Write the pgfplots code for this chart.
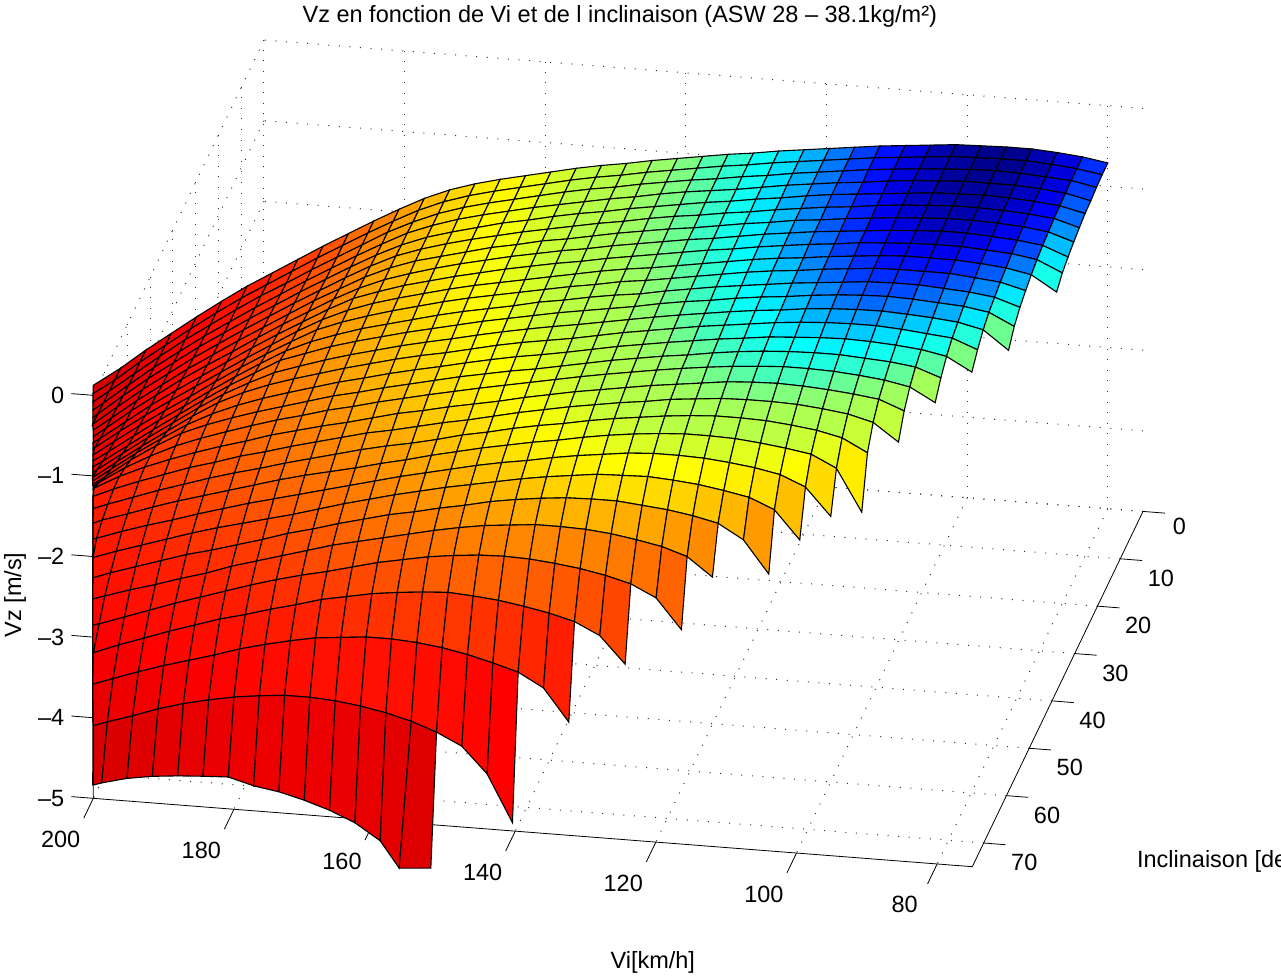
\documentclass[border=0pt]{standalone}
\usepackage{pgfplots}
\pgfplotsset{compat=1.18}
\usepackage{fontspec}
\setmainfont{Liberation Sans}
\begin{document}
\begin{tikzpicture}
\path[use as bounding box] (0,0) rectangle (1281pt,979pt);
\begin{axis}[
  anchor=south west, at={(93.3pt,112.3pt)},
  x={(-7.032pt,0.547pt)}, y={(-2.276pt,-4.737pt)}, z={(0pt,80.6pt)},
  xmin=75,xmax=200,ymin=0,ymax=75,zmin=-5,zmax=0,
  xtick={80,100,120,140,160,180,200}, ytick={0,10,20,30,40,50,60,70}, ztick={-5,-4,-3,-2,-1,0},
  zticklabels={–5,–4,–3,–2,–1,0},
  clip=false,
  font=\fontsize{23.5}{28}\selectfont,
  /pgf/number format/assume math mode=true,
  axis line style={draw=none},
  tick align=outside, major tick length=22pt,
  major tick style={draw=none},
  xticklabel style={xshift=-20pt,yshift=-8pt},
  yticklabel style={xshift=4pt,yshift=-2pt},
  zticklabel style={anchor=east,xshift=-16pt,yshift=20pt},
  grid=major,
  grid style={black!80,line width=1pt,dash pattern=on 1pt off 9.6pt},
  title={Vz en fonction de Vi et de l inclinaison (ASW 28 -- 38.1kg/m²)},
  xlabel={Vi[km/h]}, ylabel={Inclinaison [deg]}, zlabel={Vz [m/s]},
  every axis title/.style={at={(axis description cs:0.5016,1.029)},anchor=center},
  every axis x label/.style={at={(axis description cs:0.533,-0.1153)},anchor=center},
  every axis y label/.style={at={(axis description cs:0.991,0.0058)},anchor=west},
  every axis z label/.style={at={(axis description cs:-0.0746,0.3287)},anchor=center,rotate=90},
  point meta min=-5.7, point meta max=-0.6,
  colormap={vz}{rgb255(0cm)=(153,0,0); rgb255(1cm)=(200,0,0); rgb255(1.7cm)=(222,0,0); rgb255(2.37cm)=(255,0,0); rgb255(2.9cm)=(255,30,0); rgb255(3.27cm)=(255,70,0); rgb255(3.51cm)=(255,100,0); rgb255(3.8cm)=(255,140,0); rgb255(4.03cm)=(255,190,0); rgb255(4.2cm)=(255,235,0); rgb255(4.3cm)=(255,255,0); rgb255(4.47cm)=(190,255,65); rgb255(4.59cm)=(170,255,85); rgb255(4.69cm)=(120,255,135); rgb255(4.75cm)=(60,255,195); rgb255(4.83cm)=(0,255,255); rgb255(4.89cm)=(0,190,255); rgb255(4.94cm)=(0,120,255); rgb255(4.98cm)=(0,60,255); rgb255(5.02cm)=(0,0,255); rgb255(5.06cm)=(0,0,190); rgb255(5.1cm)=(0,0,128)},
]
\draw[black,line width=0.8pt] (axis cs:200,75,0)--(axis cs:200,75,-5)--(axis cs:75,75,-5)--(axis cs:75,0,-5);
\foreach \v in {80,100,120,140,160,180,200}{\edef\tmp{\noexpand\draw[black,line width=0.8pt] (axis cs:\v,75,-5)--(axis cs:\v,79.2,-5);}\tmp}
\foreach \v in {0,10,20,30,40,50,60,70}{\edef\tmp{\noexpand\draw[black,line width=0.8pt] (axis cs:75,\v,-5)--(axis cs:71.9,\v,-5);}\tmp}
\foreach \v in {-5,-4,-3,-2,-1,0}{\edef\tmp{\noexpand\draw[black,line width=0.8pt] (axis cs:200,75,\v)--(axis cs:203.1,75,\v);}\tmp}
\addplot3[surf, shader=flat corner, draw=black, line width=1.1pt, unbounded coords=jump, mesh/rows=31, mesh/cols=41, point meta=z] table {
80 0 -.71
83.6 0 -.66
87.2 0 -.63
90.8 0 -.61
94.4 0 -.61
98 0 -.62
101.6 0 -.63
105.2 0 -.66
108.8 0 -.69
112.4 0 -.72
116 0 -.76
119.6 0 -.80
123.2 0 -.84
126.8 0 -.88
130.4 0 -.93
134 0 -.97
137.6 0 -1.02
141.2 0 -1.07
144.8 0 -1.12
148.4 0 -1.18
152 0 -1.23
155.6 0 -1.29
159.2 0 -1.36
162.8 0 -1.43
166.4 0 -1.50
170 0 -1.58
173.6 0 -1.68
177.2 0 -1.81
180.8 0 -1.97
184.4 0 -2.14
188 0 -2.32
191.6 0 -2.50
195.2 0 -2.69
198.8 0 -2.88
202.4 0 -3.07
206 0 -3.28
209.6 0 -3.50
213.2 0 -3.73
216.8 0 -3.96
220.4 0 -4.21
224.3 0 -4.45
80 2.5 -.71
83.6 2.5 -.66
87.2 2.5 -.63
90.8 2.5 -.61
94.4 2.5 -.61
98 2.5 -.62
101.6 2.5 -.63
105.2 2.5 -.66
108.8 2.5 -.69
112.4 2.5 -.72
116 2.5 -.76
119.6 2.5 -.80
123.2 2.5 -.84
126.8 2.5 -.88
130.4 2.5 -.93
134 2.5 -.97
137.6 2.5 -1.02
141.2 2.5 -1.07
144.8 2.5 -1.12
148.4 2.5 -1.18
152 2.5 -1.23
155.6 2.5 -1.29
159.2 2.5 -1.36
162.8 2.5 -1.43
166.4 2.5 -1.50
170 2.5 -1.58
173.6 2.5 -1.68
177.2 2.5 -1.81
180.8 2.5 -1.97
184.4 2.5 -2.14
188 2.5 -2.32
191.6 2.5 -2.50
195.2 2.5 -2.69
198.8 2.5 -2.88
202.4 2.5 -3.07
206 2.5 -3.28
209.6 2.5 -3.50
213.2 2.5 -3.73
216.8 2.5 -3.96
220.4 2.5 -4.21
223.5 2.5 -4.40
80 5 -.72
83.6 5 -.66
87.2 5 -.64
90.8 5 -.62
94.4 5 -.61
98 5 -.62
101.6 5 -.64
105.2 5 -.66
108.8 5 -.69
112.4 5 -.72
116 5 -.76
119.6 5 -.80
123.2 5 -.84
126.8 5 -.89
130.4 5 -.93
134 5 -.98
137.6 5 -1.02
141.2 5 -1.07
144.8 5 -1.12
148.4 5 -1.18
152 5 -1.23
155.6 5 -1.29
159.2 5 -1.36
162.8 5 -1.43
166.4 5 -1.50
170 5 -1.58
173.6 5 -1.68
177.2 5 -1.81
180.8 5 -1.96
184.4 5 -2.14
188 5 -2.32
191.6 5 -2.50
195.2 5 -2.69
198.8 5 -2.87
202.4 5 -3.07
206 5 -3.28
209.6 5 -3.49
213.2 5 -3.72
216.8 5 -3.96
220.4 5 -4.20
222.7 5 -4.35
80 7.5 -.74
83.6 7.5 -.67
87.2 7.5 -.64
90.8 7.5 -.62
94.4 7.5 -.62
98 7.5 -.62
101.6 7.5 -.64
105.2 7.5 -.66
108.8 7.5 -.69
112.4 7.5 -.73
116 7.5 -.76
119.6 7.5 -.80
123.2 7.5 -.84
126.8 7.5 -.89
130.4 7.5 -.94
134 7.5 -.98
137.6 7.5 -1.02
141.2 7.5 -1.07
144.8 7.5 -1.13
148.4 7.5 -1.18
152 7.5 -1.24
155.6 7.5 -1.30
159.2 7.5 -1.36
162.8 7.5 -1.43
166.4 7.5 -1.50
170 7.5 -1.58
173.6 7.5 -1.68
177.2 7.5 -1.80
180.8 7.5 -1.96
184.4 7.5 -2.13
188 7.5 -2.31
191.6 7.5 -2.49
195.2 7.5 -2.68
198.8 7.5 -2.87
202.4 7.5 -3.07
206 7.5 -3.27
209.6 7.5 -3.49
213.2 7.5 -3.71
216.8 7.5 -3.95
220.4 7.5 -4.20
221.9 7.5 -4.30
80 10 -.75
83.6 10 -.68
87.2 10 -.65
90.8 10 -.63
94.4 10 -.62
98 10 -.63
101.6 10 -.64
105.2 10 -.67
108.8 10 -.70
112.4 10 -.73
116 10 -.76
119.6 10 -.80
123.2 10 -.85
126.8 10 -.89
130.4 10 -.94
134 10 -.98
137.6 10 -1.03
141.2 10 -1.08
144.8 10 -1.13
148.4 10 -1.19
152 10 -1.24
155.6 10 -1.30
159.2 10 -1.37
162.8 10 -1.43
166.4 10 -1.51
170 10 -1.59
173.6 10 -1.68
177.2 10 -1.80
180.8 10 -1.95
184.4 10 -2.12
188 10 -2.30
191.6 10 -2.48
195.2 10 -2.67
198.8 10 -2.86
202.4 10 -3.06
206 10 -3.26
209.6 10 -3.48
213.2 10 -3.70
216.8 10 -3.94
220.4 10 -4.19
221.1 10 -4.24
80 12.5 -.78
83.6 12.5 -.69
87.2 12.5 -.66
90.8 12.5 -.64
94.4 12.5 -.63
98 12.5 -.63
101.6 12.5 -.65
105.2 12.5 -.67
108.8 12.5 -.70
112.4 12.5 -.74
116 12.5 -.77
119.6 12.5 -.81
123.2 12.5 -.85
126.8 12.5 -.90
130.4 12.5 -.94
134 12.5 -.99
137.6 12.5 -1.03
141.2 12.5 -1.08
144.8 12.5 -1.14
148.4 12.5 -1.19
152 12.5 -1.25
155.6 12.5 -1.31
159.2 12.5 -1.37
162.8 12.5 -1.44
166.4 12.5 -1.51
170 12.5 -1.59
173.6 12.5 -1.68
177.2 12.5 -1.79
180.8 12.5 -1.94
184.4 12.5 -2.11
188 12.5 -2.29
191.6 12.5 -2.47
195.2 12.5 -2.66
198.8 12.5 -2.85
202.4 12.5 -3.05
206 12.5 -3.25
209.6 12.5 -3.47
213.2 12.5 -3.69
216.8 12.5 -3.93
220.3 12.5 -4.17
220.3 12.5 -4.17
80 15 -.81
83.6 15 -.71
87.2 15 -.67
90.8 15 -.65
94.4 15 -.64
98 15 -.64
101.6 15 -.66
105.2 15 -.68
108.8 15 -.71
112.4 15 -.74
116 15 -.78
119.6 15 -.81
123.2 15 -.86
126.8 15 -.90
130.4 15 -.95
134 15 -1.00
137.6 15 -1.04
141.2 15 -1.09
144.8 15 -1.14
148.4 15 -1.20
152 15 -1.26
155.6 15 -1.31
159.2 15 -1.38
162.8 15 -1.44
166.4 15 -1.52
170 15 -1.60
173.6 15 -1.68
177.2 15 -1.79
180.8 15 -1.93
184.4 15 -2.10
188 15 -2.27
191.6 15 -2.46
195.2 15 -2.65
198.8 15 -2.84
202.4 15 -3.04
206 15 -3.24
209.6 15 -3.46
213.2 15 -3.68
216.8 15 -3.92
219.4 15 -4.09
219.4 15 -4.09
80 17.5 -.85
83.6 17.5 -.73
87.2 17.5 -.69
90.8 17.5 -.67
94.4 17.5 -.65
98 17.5 -.65
101.6 17.5 -.67
105.2 17.5 -.69
108.8 17.5 -.72
112.4 17.5 -.75
116 17.5 -.78
119.6 17.5 -.82
123.2 17.5 -.86
126.8 17.5 -.91
130.4 17.5 -.96
134 17.5 -1.00
137.6 17.5 -1.05
141.2 17.5 -1.10
144.8 17.5 -1.15
148.4 17.5 -1.21
152 17.5 -1.26
155.6 17.5 -1.32
159.2 17.5 -1.38
162.8 17.5 -1.45
166.4 17.5 -1.52
170 17.5 -1.60
173.6 17.5 -1.69
177.2 17.5 -1.79
180.8 17.5 -1.92
184.4 17.5 -2.08
188 17.5 -2.26
191.6 17.5 -2.44
195.2 17.5 -2.63
198.8 17.5 -2.83
202.4 17.5 -3.02
206 17.5 -3.22
209.6 17.5 -3.44
213.2 17.5 -3.66
216.8 17.5 -3.90
218.6 17.5 -4.02
218.6 17.5 -4.02
80 20 -.90
83.6 20 -.76
87.2 20 -.71
90.8 20 -.69
94.4 20 -.67
98 20 -.67
101.6 20 -.68
105.2 20 -.70
108.8 20 -.72
112.4 20 -.76
116 20 -.79
119.6 20 -.83
123.2 20 -.87
126.8 20 -.92
130.4 20 -.96
134 20 -1.01
137.6 20 -1.06
141.2 20 -1.11
144.8 20 -1.16
148.4 20 -1.22
152 20 -1.27
155.6 20 -1.33
159.2 20 -1.39
162.8 20 -1.46
166.4 20 -1.53
170 20 -1.61
173.6 20 -1.69
177.2 20 -1.79
180.8 20 -1.90
184.4 20 -2.06
188 20 -2.24
191.6 20 -2.42
195.2 20 -2.61
198.8 20 -2.81
202.4 20 -3.01
206 20 -3.21
209.6 20 -3.42
213.2 20 -3.65
216.8 20 -3.88
217.8 20 -3.94
217.8 20 -3.94
80 22.5 -.99
83.6 22.5 -.80
87.2 22.5 -.74
90.8 22.5 -.71
94.4 22.5 -.69
98 22.5 -.69
101.6 22.5 -.69
105.2 22.5 -.71
108.8 22.5 -.74
112.4 22.5 -.77
116 22.5 -.81
119.6 22.5 -.84
123.2 22.5 -.88
126.8 22.5 -.93
130.4 22.5 -.98
134 22.5 -1.03
137.6 22.5 -1.08
141.2 22.5 -1.12
144.8 22.5 -1.17
148.4 22.5 -1.23
152 22.5 -1.29
155.6 22.5 -1.35
159.2 22.5 -1.41
162.8 22.5 -1.47
166.4 22.5 -1.54
170 22.5 -1.62
173.6 22.5 -1.70
177.2 22.5 -1.79
180.8 22.5 -1.90
184.4 22.5 -2.04
188 22.5 -2.21
191.6 22.5 -2.40
195.2 22.5 -2.59
198.8 22.5 -2.79
202.4 22.5 -2.99
206 22.5 -3.19
209.6 22.5 -3.40
213.2 22.5 -3.62
216.8 22.5 -3.85
217 22.5 -3.87
217 22.5 -3.87
80 25 nan
83.6 25 -.85
87.2 25 -.77
90.8 25 -.74
94.4 25 -.71
98 25 -.71
101.6 25 -.71
105.2 25 -.72
108.8 25 -.75
112.4 25 -.78
116 25 -.82
119.6 25 -.85
123.2 25 -.89
126.8 25 -.94
130.4 25 -.99
134 25 -1.04
137.6 25 -1.09
141.2 25 -1.13
144.8 25 -1.19
148.4 25 -1.24
152 25 -1.30
155.6 25 -1.36
159.2 25 -1.42
162.8 25 -1.48
166.4 25 -1.55
170 25 -1.63
173.6 25 -1.71
177.2 25 -1.80
180.8 25 -1.90
184.4 25 -2.02
188 25 -2.19
191.6 25 -2.37
195.2 25 -2.56
198.8 25 -2.76
202.4 25 -2.97
206 25 -3.17
209.6 25 -3.38
213.2 25 -3.60
216.2 25 -3.79
216.2 25 -3.79
216.2 25 -3.79
80 27.5 nan
83.6 27.5 -.91
87.2 27.5 -.81
90.8 27.5 -.77
94.4 27.5 -.75
98 27.5 -.73
101.6 27.5 -.73
105.2 27.5 -.74
108.8 27.5 -.77
112.4 27.5 -.80
116 27.5 -.83
119.6 27.5 -.87
123.2 27.5 -.91
126.8 27.5 -.95
130.4 27.5 -1.00
134 27.5 -1.05
137.6 27.5 -1.11
141.2 27.5 -1.15
144.8 27.5 -1.20
148.4 27.5 -1.26
152 27.5 -1.31
155.6 27.5 -1.38
159.2 27.5 -1.44
162.8 27.5 -1.50
166.4 27.5 -1.57
170 27.5 -1.65
173.6 27.5 -1.73
177.2 27.5 -1.81
180.8 27.5 -1.91
184.4 27.5 -2.02
188 27.5 -2.16
191.6 27.5 -2.34
195.2 27.5 -2.53
198.8 27.5 -2.73
202.4 27.5 -2.94
206 27.5 -3.14
209.6 27.5 -3.36
213.2 27.5 -3.58
215.4 27.5 -3.71
215.4 27.5 -3.71
215.4 27.5 -3.71
80 30 nan
83.6 30 -1.00
87.2 30 -.85
90.8 30 -.80
94.4 30 -.78
98 30 -.76
101.6 30 -.75
105.2 30 -.76
108.8 30 -.78
112.4 30 -.81
116 30 -.85
119.6 30 -.88
123.2 30 -.92
126.8 30 -.97
130.4 30 -1.01
134 30 -1.06
137.6 30 -1.12
141.2 30 -1.17
144.8 30 -1.22
148.4 30 -1.27
152 30 -1.33
155.6 30 -1.39
159.2 30 -1.45
162.8 30 -1.52
166.4 30 -1.59
170 30 -1.66
173.6 30 -1.74
177.2 30 -1.82
180.8 30 -1.91
184.4 30 -2.02
188 30 -2.13
191.6 30 -2.31
195.2 30 -2.49
198.8 30 -2.69
202.4 30 -2.90
206 30 -3.11
209.6 30 -3.33
213.2 30 -3.55
214.6 30 -3.63
214.6 30 -3.63
214.6 30 -3.63
80 32.5 nan
83.6 32.5 -1.15
87.2 32.5 -.92
90.8 32.5 -.85
94.4 32.5 -.82
98 32.5 -.80
101.6 32.5 -.785
105.2 32.5 -.79
108.8 32.5 -.805
112.4 32.5 -.83
116 32.5 -.87
119.6 32.5 -.90
123.2 32.5 -.94
126.8 32.5 -.985
130.4 32.5 -1.03
134 32.5 -1.08
137.6 32.5 -1.135
141.2 32.5 -1.19
144.8 32.5 -1.245
148.4 32.5 -1.295
152 32.5 -1.35
155.6 32.5 -1.41
159.2 32.5 -1.475
162.8 32.5 -1.545
166.4 32.5 -1.61
170 32.5 -1.68
173.6 32.5 -1.76
177.2 32.5 -1.84
180.8 32.5 -1.93
184.4 32.5 -2.03
188 32.5 -2.135
191.6 32.5 -2.285
195.2 32.5 -2.45
198.8 32.5 -2.645
202.4 32.5 -2.855
206 32.5 -3.065
209.6 32.5 -3.285
213.2 32.5 -3.51
213.8 32.5 -3.55
213.8 32.5 -3.55
213.8 32.5 -3.55
80 35 nan
83.6 35 nan
87.2 35 -1.02
90.8 35 -.90
94.4 35 -.87
98 35 -.84
101.6 35 -.82
105.2 35 -.82
108.8 35 -.83
112.4 35 -.85
116 35 -.88
119.6 35 -.92
123.2 35 -.96
126.8 35 -1.00
130.4 35 -1.05
134 35 -1.10
137.6 35 -1.15
141.2 35 -1.21
144.8 35 -1.27
148.4 35 -1.32
152 35 -1.37
155.6 35 -1.43
159.2 35 -1.50
162.8 35 -1.57
166.4 35 -1.63
170 35 -1.70
173.6 35 -1.78
177.2 35 -1.86
180.8 35 -1.95
184.4 35 -2.04
188 35 -2.14
191.6 35 -2.26
195.2 35 -2.41
198.8 35 -2.60
202.4 35 -2.81
206 35 -3.02
209.6 35 -3.24
213 35 -3.46
213 35 -3.46
213 35 -3.46
213 35 -3.46
80 37.5 nan
83.6 37.5 nan
87.2 37.5 -1.15
90.8 37.5 -.98
94.4 37.5 -.92
98 37.5 -.89
101.6 37.5 -.87
105.2 37.5 -.86
108.8 37.5 -.87
112.4 37.5 -.89
116 37.5 -.91
119.6 37.5 -.95
123.2 37.5 -.985
126.8 37.5 -1.03
130.4 37.5 -1.075
134 37.5 -1.125
137.6 37.5 -1.175
141.2 37.5 -1.235
144.8 37.5 -1.295
148.4 37.5 -1.35
152 37.5 -1.40
155.6 37.5 -1.46
159.2 37.5 -1.525
162.8 37.5 -1.595
166.4 37.5 -1.66
170 37.5 -1.73
173.6 37.5 -1.81
177.2 37.5 -1.885
180.8 37.5 -1.975
184.4 37.5 -2.065
188 37.5 -2.16
191.6 37.5 -2.27
195.2 37.5 -2.40
198.8 37.5 -2.56
202.4 37.5 -2.755
206 37.5 -2.96
209.6 37.5 -3.185
212.2 37.5 -3.35
212.2 37.5 -3.35
212.2 37.5 -3.35
212.2 37.5 -3.35
80 40 nan
83.6 40 nan
87.2 40 nan
90.8 40 -1.10
94.4 40 -.99
98 40 -.95
101.6 40 -.93
105.2 40 -.91
108.8 40 -.91
112.4 40 -.92
116 40 -.94
119.6 40 -.97
123.2 40 -1.01
126.8 40 -1.06
130.4 40 -1.10
134 40 -1.15
137.6 40 -1.20
141.2 40 -1.26
144.8 40 -1.32
148.4 40 -1.38
152 40 -1.43
155.6 40 -1.49
159.2 40 -1.55
162.8 40 -1.62
166.4 40 -1.69
170 40 -1.76
173.6 40 -1.84
177.2 40 -1.91
180.8 40 -2.00
184.4 40 -2.09
188 40 -2.18
191.6 40 -2.28
195.2 40 -2.39
198.8 40 -2.52
202.4 40 -2.70
206 40 -2.90
209.6 40 -3.13
211.4 40 -3.24
211.4 40 -3.24
211.4 40 -3.24
211.4 40 -3.24
80 42.5 nan
83.6 42.5 nan
87.2 42.5 nan
90.8 42.5 -1.26
94.4 42.5 -1.09
98 42.5 -1.03
101.6 42.5 -.995
105.2 42.5 -.97
108.8 42.5 -.96
112.4 42.5 -.96
116 42.5 -.98
119.6 42.5 -1.005
123.2 42.5 -1.04
126.8 42.5 -1.08
130.4 42.5 -1.125
134 42.5 -1.175
137.6 42.5 -1.225
141.2 42.5 -1.28
144.8 42.5 -1.34
148.4 42.5 -1.40
152 42.5 -1.46
155.6 42.5 -1.52
159.2 42.5 -1.585
162.8 42.5 -1.65
166.4 42.5 -1.72
170 42.5 -1.79
173.6 42.5 -1.87
177.2 42.5 -1.94
180.8 42.5 -2.03
184.4 42.5 -2.11
188 42.5 -2.205
191.6 42.5 -2.305
195.2 42.5 -2.41
198.8 42.5 -2.53
202.4 42.5 -2.68
206 42.5 -2.85
209.6 42.5 -3.05
210.5 42.5 -3.11
210.5 42.5 -3.11
210.5 42.5 -3.11
210.5 42.5 -3.11
80 45 nan
83.6 45 nan
87.2 45 nan
90.8 45 nan
94.4 45 -1.24
98 45 -1.12
101.6 45 -1.08
105.2 45 -1.05
108.8 45 -1.03
112.4 45 -1.02
116 45 -1.03
119.6 45 -1.05
123.2 45 -1.09
126.8 45 -1.13
130.4 45 -1.17
134 45 -1.22
137.6 45 -1.27
141.2 45 -1.32
144.8 45 -1.38
148.4 45 -1.44
152 45 -1.51
155.6 45 -1.57
159.2 45 -1.63
162.8 45 -1.70
166.4 45 -1.76
170 45 -1.84
173.6 45 -1.92
177.2 45 -1.99
180.8 45 -2.07
184.4 45 -2.15
188 45 -2.25
191.6 45 -2.34
195.2 45 -2.44
198.8 45 -2.55
202.4 45 -2.67
206 45 -2.81
209.6 45 -2.98
209.7 45 -2.99
209.7 45 -2.99
209.7 45 -2.99
209.7 45 -2.99
80 47.5 nan
83.6 47.5 nan
87.2 47.5 nan
90.8 47.5 nan
94.4 47.5 -1.48
98 47.5 -1.26
101.6 47.5 -1.18
105.2 47.5 -1.14
108.8 47.5 -1.11
112.4 47.5 -1.10
116 47.5 -1.10
119.6 47.5 -1.11
123.2 47.5 -1.14
126.8 47.5 -1.17
130.4 47.5 -1.22
134 47.5 -1.26
137.6 47.5 -1.31
141.2 47.5 -1.36
144.8 47.5 -1.42
148.4 47.5 -1.48
152 47.5 -1.55
155.6 47.5 -1.62
159.2 47.5 -1.68
162.8 47.5 -1.75
166.4 47.5 -1.82
170 47.5 -1.88
173.6 47.5 -1.96
177.2 47.5 -2.04
180.8 47.5 -2.12
184.4 47.5 -2.21
188 47.5 -2.29
191.6 47.5 -2.39
195.2 47.5 -2.48
198.8 47.5 -2.59
202.4 47.5 -2.70
206 47.5 -2.82
208.9 47.5 -2.93
208.9 47.5 -2.93
208.9 47.5 -2.93
208.9 47.5 -2.93
208.9 47.5 -2.93
80 50 nan
83.6 50 nan
87.2 50 nan
90.8 50 nan
94.4 50 nan
98 50 -1.49
101.6 50 -1.33
105.2 50 -1.26
108.8 50 -1.22
112.4 50 -1.19
116 50 -1.18
119.6 50 -1.18
123.2 50 -1.20
126.8 50 -1.23
130.4 50 -1.27
134 50 -1.31
137.6 50 -1.36
141.2 50 -1.42
144.8 50 -1.47
148.4 50 -1.53
152 50 -1.60
155.6 50 -1.66
159.2 50 -1.74
162.8 50 -1.81
166.4 50 -1.87
170 50 -1.94
173.6 50 -2.02
177.2 50 -2.10
180.8 50 -2.18
184.4 50 -2.27
188 50 -2.35
191.6 50 -2.44
195.2 50 -2.54
198.8 50 -2.64
202.4 50 -2.75
206 50 -2.86
208.1 50 -2.93
208.1 50 -2.93
208.1 50 -2.93
208.1 50 -2.93
208.1 50 -2.93
80 52.5 nan
83.6 52.5 nan
87.2 52.5 nan
90.8 52.5 nan
94.4 52.5 nan
98 52.5 -2.08
101.6 52.5 -1.56
105.2 52.5 -1.41
108.8 52.5 -1.36
112.4 52.5 -1.32
116 52.5 -1.29
119.6 52.5 -1.28
123.2 52.5 -1.28
126.8 52.5 -1.30
130.4 52.5 -1.33
134 52.5 -1.37
137.6 52.5 -1.42
141.2 52.5 -1.48
144.8 52.5 -1.53
148.4 52.5 -1.59
152 52.5 -1.65
155.6 52.5 -1.72
159.2 52.5 -1.79
162.8 52.5 -1.87
166.4 52.5 -1.94
170 52.5 -2.02
173.6 52.5 -2.09
177.2 52.5 -2.16
180.8 52.5 -2.24
184.4 52.5 -2.33
188 52.5 -2.42
191.6 52.5 -2.51
195.2 52.5 -2.60
198.8 52.5 -2.70
202.4 52.5 -2.81
206 52.5 -2.91
207.3 52.5 -2.96
207.3 52.5 -2.96
207.3 52.5 -2.96
207.3 52.5 -2.96
207.3 52.5 -2.96
80 55 nan
83.6 55 nan
87.2 55 nan
90.8 55 nan
94.4 55 nan
98 55 nan
101.6 55 -2.01
105.2 55 -1.67
108.8 55 -1.54
112.4 55 -1.48
116 55 -1.44
119.6 55 -1.41
123.2 55 -1.40
126.8 55 -1.40
130.4 55 -1.42
134 55 -1.46
137.6 55 -1.50
141.2 55 -1.55
144.8 55 -1.61
148.4 55 -1.66
152 55 -1.72
155.6 55 -1.79
159.2 55 -1.86
162.8 55 -1.93
166.4 55 -2.01
170 55 -2.09
173.6 55 -2.17
177.2 55 -2.25
180.8 55 -2.33
184.4 55 -2.41
188 55 -2.50
191.6 55 -2.59
195.2 55 -2.69
198.8 55 -2.78
202.4 55 -2.88
206 55 -2.99
206.5 55 -3.00
206.5 55 -3.00
206.5 55 -3.00
206.5 55 -3.00
206.5 55 -3.00
80 57.5 nan
83.6 57.5 nan
87.2 57.5 nan
90.8 57.5 nan
94.4 57.5 nan
98 57.5 nan
101.6 57.5 nan
105.2 57.5 -2.18
108.8 57.5 -1.83
112.4 57.5 -1.70
116 57.5 -1.64
119.6 57.5 -1.59
123.2 57.5 -1.56
126.8 57.5 -1.54
130.4 57.5 -1.55
134 57.5 -1.56
137.6 57.5 -1.60
141.2 57.5 -1.64
144.8 57.5 -1.69
148.4 57.5 -1.75
152 57.5 -1.81
155.6 57.5 -1.87
159.2 57.5 -1.94
162.8 57.5 -2.01
166.4 57.5 -2.09
170 57.5 -2.17
173.6 57.5 -2.26
177.2 57.5 -2.35
180.8 57.5 -2.43
184.4 57.5 -2.51
188 57.5 -2.59
191.6 57.5 -2.68
195.2 57.5 -2.78
198.8 57.5 -2.88
202.4 57.5 -2.98
205.7 57.5 -3.08
205.7 57.5 -3.08
205.7 57.5 -3.08
205.7 57.5 -3.08
205.7 57.5 -3.08
205.7 57.5 -3.08
80 60 nan
83.6 60 nan
87.2 60 nan
90.8 60 nan
94.4 60 nan
98 60 nan
101.6 60 nan
105.2 60 nan
108.8 60 -2.48
112.4 60 -2.08
116 60 -1.90
119.6 60 -1.83
123.2 60 -1.78
126.8 60 -1.75
130.4 60 -1.72
134 60 -1.72
137.6 60 -1.73
141.2 60 -1.76
144.8 60 -1.80
148.4 60 -1.85
152 60 -1.92
155.6 60 -1.98
159.2 60 -2.05
162.8 60 -2.11
166.4 60 -2.19
170 60 -2.27
173.6 60 -2.36
177.2 60 -2.44
180.8 60 -2.54
184.4 60 -2.63
188 60 -2.72
191.6 60 -2.80
195.2 60 -2.90
198.8 60 -3.00
202.4 60 -3.10
204.9 60 -3.18
204.9 60 -3.18
204.9 60 -3.18
204.9 60 -3.18
204.9 60 -3.18
204.9 60 -3.18
80 62.5 nan
83.6 62.5 nan
87.2 62.5 nan
90.8 62.5 nan
94.4 62.5 nan
98 62.5 nan
101.6 62.5 nan
105.2 62.5 nan
108.8 62.5 nan
112.4 62.5 nan
116 62.5 -2.42
119.6 62.5 -2.19
123.2 62.5 -2.09
126.8 62.5 -2.03
130.4 62.5 -1.98
134 62.5 -1.95
137.6 62.5 -1.94
141.2 62.5 -1.94
144.8 62.5 -1.97
148.4 62.5 -2.00
152 62.5 -2.05
155.6 62.5 -2.11
159.2 62.5 -2.18
162.8 62.5 -2.25
166.4 62.5 -2.32
170 62.5 -2.39
173.6 62.5 -2.48
177.2 62.5 -2.57
180.8 62.5 -2.66
184.4 62.5 -2.75
188 62.5 -2.86
191.6 62.5 -2.95
195.2 62.5 -3.05
198.8 62.5 -3.14
202.4 62.5 -3.24
204.1 62.5 -3.29
204.1 62.5 -3.29
204.1 62.5 -3.29
204.1 62.5 -3.29
204.1 62.5 -3.29
204.1 62.5 -3.29
80 65 nan
83.6 65 nan
87.2 65 nan
90.8 65 nan
94.4 65 nan
98 65 nan
101.6 65 nan
105.2 65 nan
108.8 65 nan
112.4 65 nan
116 65 nan
119.6 65 -2.95
123.2 65 -2.58
126.8 65 -2.43
130.4 65 -2.35
134 65 -2.29
137.6 65 -2.25
141.2 65 -2.22
144.8 65 -2.21
148.4 65 -2.22
152 65 -2.25
155.6 65 -2.29
159.2 65 -2.35
162.8 65 -2.41
166.4 65 -2.49
170 65 -2.57
173.6 65 -2.64
177.2 65 -2.72
180.8 65 -2.81
184.4 65 -2.91
188 65 -3.01
191.6 65 -3.11
195.2 65 -3.22
198.8 65 -3.33
202.4 65 -3.44
203.3 65 -3.46
203.3 65 -3.46
203.3 65 -3.46
203.3 65 -3.46
203.3 65 -3.46
203.3 65 -3.46
80 67.5 nan
83.6 67.5 nan
87.2 67.5 nan
90.8 67.5 nan
94.4 67.5 nan
98 67.5 nan
101.6 67.5 nan
105.2 67.5 nan
108.8 67.5 nan
112.4 67.5 nan
116 67.5 nan
119.6 67.5 nan
123.2 67.5 nan
126.8 67.5 -3.28
130.4 67.5 -2.95
134 67.5 -2.80
137.6 67.5 -2.72
141.2 67.5 -2.66
144.8 67.5 -2.61
148.4 67.5 -2.58
152 67.5 -2.56
155.6 67.5 -2.58
159.2 67.5 -2.61
162.8 67.5 -2.65
166.4 67.5 -2.71
170 67.5 -2.77
173.6 67.5 -2.86
177.2 67.5 -2.94
180.8 67.5 -3.03
184.4 67.5 -3.11
188 67.5 -3.21
191.6 67.5 -3.31
195.2 67.5 -3.42
198.8 67.5 -3.53
202.4 67.5 -3.65
202.5 67.5 -3.65
202.5 67.5 -3.65
202.5 67.5 -3.65
202.5 67.5 -3.65
202.5 67.5 -3.65
202.5 67.5 -3.65
80 70 nan
83.6 70 nan
87.2 70 nan
90.8 70 nan
94.4 70 nan
98 70 nan
101.6 70 nan
105.2 70 nan
108.8 70 nan
112.4 70 nan
116 70 nan
119.6 70 nan
123.2 70 nan
126.8 70 nan
130.4 70 nan
134 70 -3.90
137.6 70 -3.50
141.2 70 -3.33
144.8 70 -3.24
148.4 70 -3.16
152 70 -3.10
155.6 70 -3.06
159.2 70 -3.04
162.8 70 -3.04
166.4 70 -3.07
170 70 -3.10
173.6 70 -3.16
177.2 70 -3.23
180.8 70 -3.31
184.4 70 -3.41
188 70 -3.50
191.6 70 -3.59
195.2 70 -3.69
198.8 70 -3.80
201.7 70 -3.89
201.7 70 -3.89
201.7 70 -3.89
201.7 70 -3.89
201.7 70 -3.89
201.7 70 -3.89
201.7 70 -3.89
80 72.5 nan
83.6 72.5 nan
87.2 72.5 nan
90.8 72.5 nan
94.4 72.5 nan
98 72.5 nan
101.6 72.5 nan
105.2 72.5 nan
108.8 72.5 nan
112.4 72.5 nan
116 72.5 nan
119.6 72.5 nan
123.2 72.5 nan
126.8 72.5 nan
130.4 72.5 nan
134 72.5 nan
137.6 72.5 nan
141.2 72.5 -5.05
144.8 72.5 -4.47
148.4 72.5 -4.15
152 72.5 -4.00
155.6 72.5 -3.89
159.2 72.5 -3.81
162.8 72.5 -3.75
166.4 72.5 -3.71
170 72.5 -3.69
173.6 72.5 -3.69
177.2 72.5 -3.72
180.8 72.5 -3.76
184.4 72.5 -3.82
188 72.5 -3.89
191.6 72.5 -3.98
195.2 72.5 -4.09
198.8 72.5 -4.19
200.8 72.5 -4.25
200.8 72.5 -4.25
200.8 72.5 -4.25
200.8 72.5 -4.25
200.8 72.5 -4.25
200.8 72.5 -4.25
200.8 72.5 -4.25
80 75 nan
83.6 75 nan
87.2 75 nan
90.8 75 nan
94.4 75 nan
98 75 nan
101.6 75 nan
105.2 75 nan
108.8 75 nan
112.4 75 nan
116 75 nan
119.6 75 nan
123.2 75 nan
126.8 75 nan
130.4 75 nan
134 75 nan
137.6 75 nan
141.2 75 nan
144.8 75 nan
148.4 75 nan
152 75 -5.54
156.5 75 -5.57
159.2 75 -5.25
162.8 75 -5.05
166.4 75 -4.92
170 75 -4.82
173.6 75 -4.74
177.2 75 -4.69
180.8 75 -4.605
184.4 75 -4.62
188 75 -4.64
191.6 75 -4.67
195.2 75 -4.72
198.8 75 -4.80
200 75 -4.835
200 75 -4.835
200 75 -4.835
200 75 -4.835
200 75 -4.835
200 75 -4.835
200 75 -4.835
};
\end{axis}
\end{tikzpicture}
\end{document}
